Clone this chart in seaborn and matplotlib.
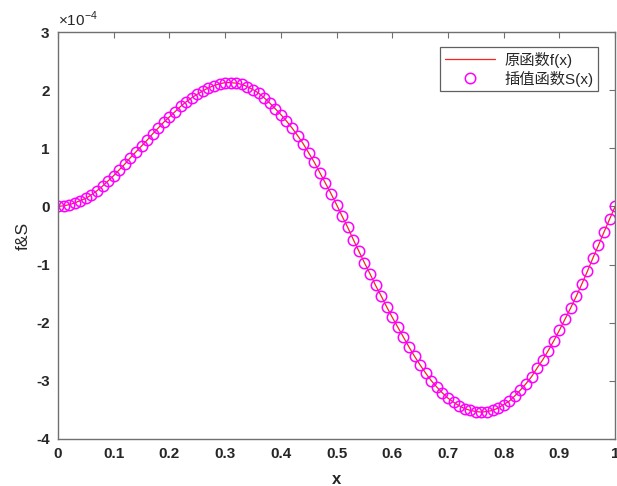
import numpy as np
import pandas as pd
import matplotlib
matplotlib.use('Agg')
import matplotlib.pyplot as plt
import seaborn as sns
from matplotlib.ticker import FuncFormatter, MultipleLocator

# ================= 数据 (y 以 1e-4 为单位读取) =================
x_vals = [round(0.01 * k, 2) for k in range(101)]
f_vals_e4 = [
    0.00, 0.01, 0.03, 0.06, 0.10, 0.14, 0.20, 0.27, 0.35, 0.44,
    0.53, 0.63, 0.73, 0.84, 0.94, 1.04, 1.14, 1.25, 1.35, 1.45,
    1.54, 1.63, 1.72, 1.80, 1.87, 1.93, 1.99, 2.04, 2.08, 2.11,
    2.13, 2.13, 2.12, 2.10, 2.06, 2.01, 1.95, 1.87, 1.78, 1.68,
    1.58, 1.47, 1.35, 1.22, 1.08, 0.92, 0.76, 0.58, 0.40, 0.22,
    0.03, -0.17, -0.36, -0.57, -0.77, -0.97, -1.16, -1.36, -1.54, -1.73,
    -1.91, -2.08, -2.25, -2.42, -2.58, -2.73, -2.87, -3.00, -3.11, -3.21,
    -3.30, -3.37, -3.43, -3.48, -3.51, -3.53, -3.54, -3.53, -3.51, -3.47,
    -3.41, -3.35, -3.26, -3.16, -3.05, -2.93, -2.78, -2.64, -2.48, -2.31,
    -2.13, -1.94, -1.75, -1.55, -1.34, -1.12, -0.89, -0.67, -0.44, -0.22,
    0.00,
]
s_vals_e4 = list(f_vals_e4)  # 插值函数与原函数几乎重合

df = pd.DataFrame({
    'x': x_vals,
    'f': np.array(f_vals_e4) * 1e-4,
    'S': np.array(s_vals_e4) * 1e-4,
})

# ================= 样式 =================
sns.set_style('white')
plt.rcParams['font.family'] = ['Liberation Sans', 'Noto Sans CJK SC', 'DejaVu Sans']
plt.rcParams['axes.unicode_minus'] = False
plt.rcParams['mathtext.fontset'] = 'custom'
plt.rcParams['mathtext.rm'] = 'Liberation Sans'

fig = plt.figure(figsize=(6.17, 4.86), dpi=100)
ax = fig.add_axes([0.094, 0.097, 0.903, 0.837])

sns.lineplot(data=df, x='x', y='f', ax=ax, color='#ff2020', linewidth=0.9,
             label='原函数f(x)')
sns.lineplot(data=df, x='x', y='S', ax=ax, linestyle='none', marker='o',
             markersize=7.5, markerfacecolor='none', markeredgecolor='#ff00ff',
             markeredgewidth=1.1, color='#ff00ff', label='插值函数S(x)')

ax.set_xlim(0, 1)
ax.set_ylim(-4e-4, 3e-4)
ax.xaxis.set_major_locator(MultipleLocator(0.1))
ax.yaxis.set_major_locator(MultipleLocator(1e-4))
ax.xaxis.set_major_formatter(FuncFormatter(lambda v, p: f'{v:g}'))
ax.yaxis.set_major_formatter(FuncFormatter(lambda v, p: f'{round(v * 1e4):d}'))
ax.text(0.0, 1.008, r'$\times10^{-4}$', transform=ax.transAxes, fontsize=11,
        ha='left', va='bottom')

ax.tick_params(direction='in', top=True, right=True, length=4, width=0.8,
               color='#707070', labelsize=11, pad=6)
for lab in ax.get_xticklabels() + ax.get_yticklabels():
    lab.set_fontweight('bold')
for sp in ax.spines.values():
    sp.set_color('#707070')
    sp.set_linewidth(1.0)

ax.set_xlabel('x', fontsize=12, fontweight='bold', labelpad=8)
ax.set_ylabel('f&S', fontsize=12.5, labelpad=4)

leg = ax.legend(loc='upper right', bbox_to_anchor=(0.969, 0.963), borderaxespad=0,
                fancybox=False, framealpha=1, edgecolor='#606060', fontsize=11,
                handlelength=3.3, handletextpad=0.6, borderpad=0.3, labelspacing=0.2)
leg.get_frame().set_linewidth(0.9)

fig.savefig('out.png', dpi=100)
